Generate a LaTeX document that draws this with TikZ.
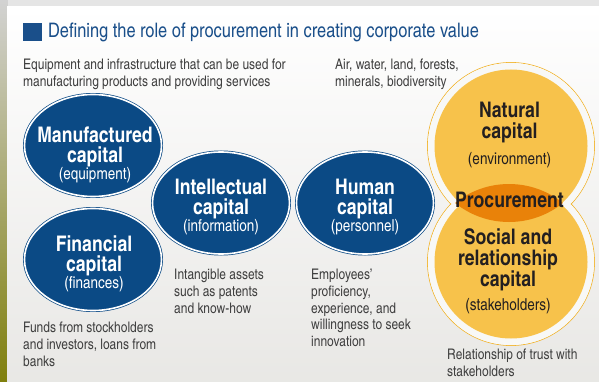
\documentclass[tikz,border=0pt]{standalone}
\usepackage{fontspec}
\setmainfont{texgyreheroscn-regular.otf}[BoldFont=texgyreheroscn-bold.otf]
\usetikzlibrary{shapes.geometric,positioning}

\definecolor{capblue}{HTML}{0B4A85}
\definecolor{titleblue}{HTML}{1A4F8A}
\definecolor{natyellow}{HTML}{F7C24B}
\definecolor{ringyellow}{HTML}{F2B52E}
\definecolor{procorange}{HTML}{E98209}
\definecolor{darktext}{HTML}{231F20}
\definecolor{graytext}{HTML}{3F3F3F}
\definecolor{panel}{HTML}{F4F3F0}

\newcommand{\smallline}{\mdseries\fontsize{16.5}{16.5}\selectfont}

\begin{document}
\begin{tikzpicture}[x=1pt,y=-1pt]
    \tikzset{capital/.style= {ellipse, fill=capblue
    , draw=capblue, line width=0.7pt
    , double=white, double distance=1.6pt
    , minimum width=137pt, minimum height=102pt
    , inner sep=0pt
      },
    captext/.style= {text=white, align=center
    , inner sep=0pt, anchor=north
    , font=\bfseries\fontsize{21.5}{20}\selectfont
      },
    natext/.style= {text=darktext, align=center
    , inner sep=0pt, anchor=north
    , font=\bfseries\fontsize{21.5}{21}\selectfont
      },
    note/.style= {text=graytext, align=left
    , inner sep=0pt, anchor=north west
    , font=\fontsize{14.6}{16.7}\selectfont
      }
    }

% background
\useasboundingbox (0,0) rectangle (599,382);
\shade[top color=gray!35, bottom color=olive!45!gray] (0,0) rectangle (8,382);
\fill[gray!20] (8,0) rectangle (599,7);
\shade[top color=white, bottom color=panel!90!gray] (7,7) rectangle (599,382);

% title
\node [fill=titleblue, minimum size=18.5pt, inner sep=0pt, anchor=north west] (mark) at (23,22.5) {};
\node [right=6pt of mark, inner sep=0pt, text=titleblue
      , font=\fontsize{20}{20}\selectfont] (title) {Defining the role of procurement in creating corporate value};

% natural and social capital
\draw [ringyellow, line width=0.8pt] (511,146) circle (83.5) (511,262) circle (83.5);
\fill [panel!60!white] (511,146) circle (83.1) (511,262) circle (83.1);
\fill [natyellow] (511,146) circle (76.5) (511,262) circle (76.5);
\begin{scope}
  \clip (509,270) circle (86);
  \fill [procorange] (509,136) circle (86);
\end{scope}
\coordinate (natural) at (511,146);
\coordinate (social) at (511,262);

% blue capitals
\node [capital] (manu) at (93,145.5) {};
\node [capital] (intel) at (221,203) {};
\node [capital] (fin) at (93,259.5) {};
\node [capital] (human) at (365,203) {};

\node [captext] (manutext) at (95,126.5) {Manufactured\\ capital\\[-3pt] \smallline (equipment)};
\node [captext] (inteltext) at (221,178.5) {Intellectual\\ capital\\[-3pt] \smallline (information)};
\node [captext] (fintext) at (94,235.5) {Financial\\ capital\\[-3pt] \smallline (finances)};
\node [captext] (humantext) at (365,178.5) {Human\\ capital\\[-3pt] \smallline (personnel)};

\node [natext] (naturaltext) at (509.5,101.5) {Natural\\ capital\\[5pt] \smallline (environment)};
\node [natext] (proctext) at (509.5,191.5) {Procurement};
\node [natext] (socialtext) at (508,228.5) {Social and\\ relationship\\ capital\\[3pt] \smallline (stakeholders)};

% notes
\node [note] (manunote) at (23,58.5) {Equipment and infrastructure that can be used for\\manufacturing products and providing services};
\node [note] (natnote) at (335,58.5) {Air, water, land, forests,\\minerals, biodiversity};
\node [note] (intelnote) at (174,269) {Intangible assets\\such as patents\\and know-how};
\node [note] (finnote) at (23,322) {Funds from stockholders\\and investors, loans from\\banks};
\node [note] (humannote) at (311,269) {Employees'\\proficiency,\\experience, and\\willingness to seek\\innovation};
\node [note] (socialnote) at (447,349) {Relationship of trust with\\stakeholders};
\end{tikzpicture}
\end{document}
